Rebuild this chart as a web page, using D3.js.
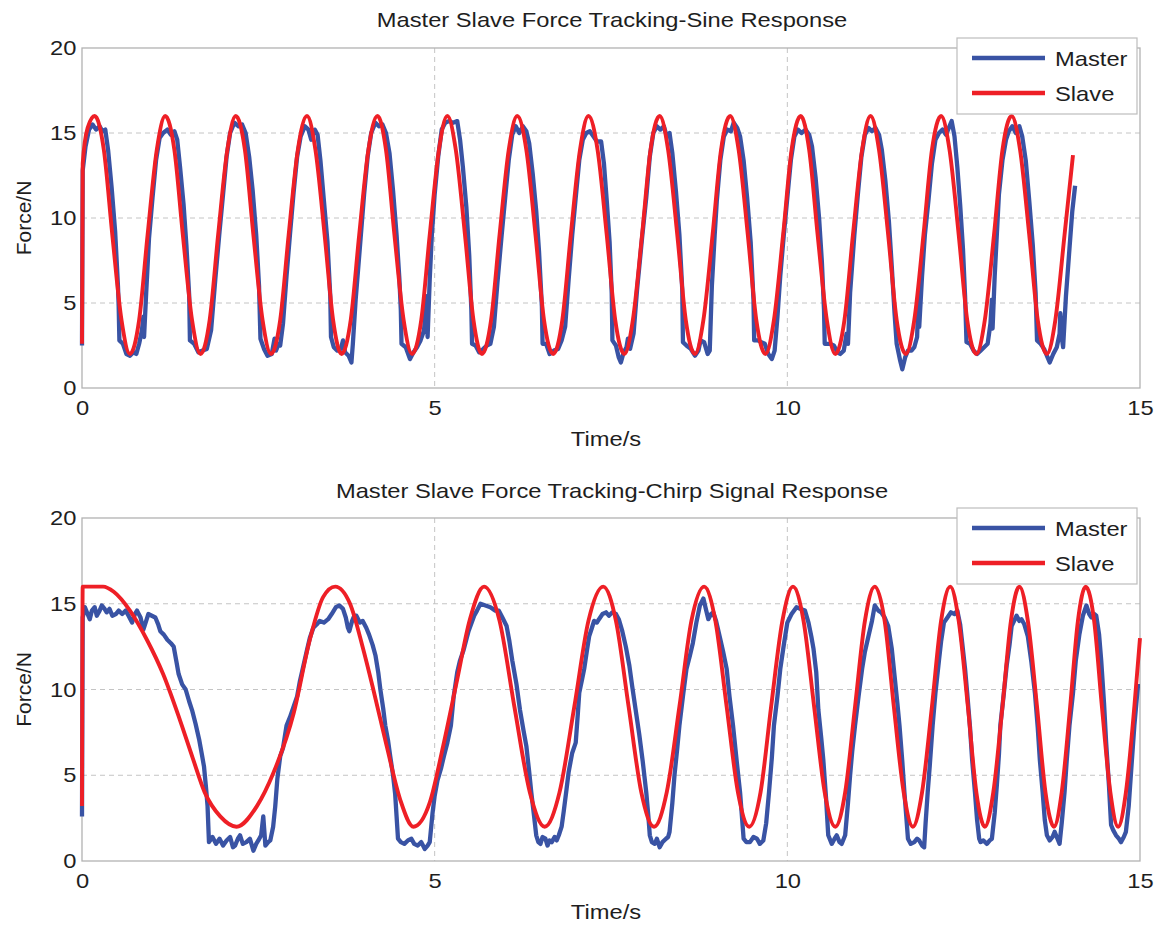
<!DOCTYPE html>
<html>
<head>
<meta charset="utf-8">
<script src="https://cdn.jsdelivr.net/npm/d3@7/dist/d3.min.js"></script>
<style>
  html, body { margin: 0; padding: 0; background: #fff; }
  svg { display: block; }
</style>
</head>
<body>
<script>
// ---- data ----
const xTicks = [0, 5, 10, 15];
const yTicks = [0, 5, 10, 15, 20];
const seriesNames = ["Master", "Slave"];
const panelTitles = [
  "Master Slave Force Tracking-Sine Response",
  "Master Slave Force Tracking-Chirp Signal Response"
];
const xLabel = "Time/s";
const yLabel = "Force/N";

// [time s, force N]
const sineSlave = [
  [0,2.6],[0.01,13.2],[0.08,15.3],
  [0.18,16],[0.31,14],[0.43,9],[0.56,4],[0.68,2],[0.81,4],[0.93,9],[1.06,14],
  [1.18,16],[1.31,14],[1.43,9],[1.56,4],[1.68,2],[1.81,4],[1.93,9],[2.06,14],
  [2.18,16],[2.31,14],[2.43,9],[2.56,4],[2.68,2],[2.81,4],[2.93,9],[3.06,14],
  [3.19,16],[3.31,14],[3.44,9],[3.56,4],[3.68,2],[3.81,4],[3.93,9],[4.06,14],
  [4.19,16],[4.31,14],[4.43,9],[4.56,4],[4.68,2],[4.81,4],[4.93,9],[5.06,14],
  [5.18,16],[5.30,14],[5.43,9],[5.55,4],[5.67,2],[5.80,4],[5.92,9],[6.05,14],
  [6.17,16],[6.30,14],[6.43,9],[6.55,4],[6.68,2],[6.81,4],[6.93,9],[7.06,14],
  [7.18,16],[7.31,14],[7.44,9],[7.56,4],[7.69,2],[7.81,4],[7.94,9],[8.06,14],
  [8.19,16],[8.31,14],[8.44,9],[8.56,4],[8.69,2],[8.81,4],[8.94,9],[9.06,14],
  [9.19,16],[9.31,14],[9.44,9],[9.56,4],[9.69,2],[9.81,4],[9.94,9],[10.06,14],
  [10.19,16],[10.31,14],[10.43,9],[10.56,4],[10.68,2],[10.81,4],[10.93,9],[11.06,14],
  [11.18,16],[11.30,14],[11.43,9],[11.55,4],[11.68,2],[11.80,4],[11.93,9],[12.05,14],
  [12.18,16],[12.30,14],[12.43,9],[12.55,4],[12.68,2],[12.80,4],[12.93,9],[13.05,14],
  [13.18,16],[13.30,14],[13.43,9],[13.55,4],[13.68,2],[13.80,4],[13.93,9],[14.05,13.7]
];

const sineMaster = [
  [0,2.5],[0.01,12.8],[0.05,14.2],[0.10,15.2],[0.15,15.5],[0.20,15.2],[0.25,15.4],[0.29,15.1],[0.33,15.2],[0.37,14.0],[0.42,11.8],[0.47,9.2],[0.51,6.0],[0.52,4.8],[0.53,2.8],[0.58,2.6],[0.63,2.0],[0.68,1.9],[0.73,2.1],[0.77,2.0],[0.81,2.6],[0.85,3.4],[0.87,4.2],[0.88,3.0],[0.91,5.6],[0.95,8.8],
  [1.00,11.2],[1.05,13.4],[1.10,14.7],[1.15,15.0],[1.21,15.2],[1.26,14.9],[1.31,15.1],[1.35,14.6],[1.39,13.0],[1.44,10.8],[1.48,8.4],[1.52,5.4],[1.53,2.8],[1.59,2.6],[1.65,2.1],[1.71,2.2],[1.77,2.3],[1.83,3.4],[1.89,6.4],[1.95,9.2],
  [2.00,11.4],[2.05,13.6],[2.10,15.0],[2.16,15.6],[2.22,15.4],[2.27,15.5],[2.32,15.0],[2.37,13.6],[2.42,11.6],[2.47,9.0],[2.51,6.0],[2.53,2.9],[2.58,2.3],[2.63,1.9],[2.69,2.0],[2.73,2.9],[2.75,2.2],[2.79,2.6],[2.81,2.5],[2.85,3.8],[2.90,6.6],[2.95,9.1],
  [3.00,11.5],[3.05,13.6],[3.10,14.8],[3.16,15.4],[3.21,15.2],[3.25,14.6],[3.30,15.2],[3.34,14.9],[3.38,13.4],[3.43,11.0],[3.48,8.6],[3.52,5.4],[3.53,3.0],[3.57,2.4],[3.62,2.2],[3.67,2.3],[3.70,2.8],[3.73,2.1],[3.78,1.9],[3.82,1.5],[3.84,2.6],[3.88,5.2],[3.95,8.8],
  [4.00,11.4],[4.05,13.6],[4.10,15.0],[4.16,15.6],[4.21,15.4],[4.26,15.5],[4.31,15.0],[4.36,13.8],[4.41,11.6],[4.46,9.0],[4.50,6.4],[4.52,4.6],[4.53,2.6],[4.59,2.4],[4.65,1.7],[4.70,2.1],[4.75,2.4],[4.80,2.8],[4.85,3.4],[4.88,5.4],[4.90,3.0],[4.93,6.4],[4.96,9.0],
  [5.00,11.4],[5.05,13.6],[5.10,15.2],[5.15,15.6],[5.20,15.7],[5.26,15.6],[5.32,15.7],[5.36,14.6],[5.40,13.0],[5.45,10.6],[5.49,7.8],[5.52,4.6],[5.53,2.6],[5.58,2.5],[5.63,2.1],[5.69,2.3],[5.74,2.5],[5.79,2.6],[5.84,3.6],[5.89,6.2],[5.95,9.0],
  [6.00,11.2],[6.05,13.4],[6.10,14.9],[6.15,15.4],[6.20,15.0],[6.25,15.4],[6.30,15.1],[6.34,14.4],[6.39,12.6],[6.44,10.4],[6.48,8.0],[6.52,4.8],[6.53,2.6],[6.58,2.6],[6.63,2.0],[6.69,2.2],[6.75,2.3],[6.80,2.8],[6.85,3.6],[6.90,6.4],[6.95,9.0],
  [7.00,11.2],[7.05,13.4],[7.10,14.6],[7.15,15.0],[7.20,15.1],[7.25,14.8],[7.30,14.5],[7.36,14.5],[7.40,13.2],[7.44,11.0],[7.48,8.6],[7.51,5.6],[7.52,2.8],[7.57,2.5],[7.61,1.8],[7.64,1.5],[7.68,2.1],[7.72,2.4],[7.74,2.9],[7.77,2.3],[7.82,3.2],[7.87,5.8],[7.94,8.8],
  [8.00,11.2],[8.05,13.6],[8.10,15.0],[8.15,15.4],[8.20,15.2],[8.25,15.4],[8.29,14.8],[8.33,15.0],[8.37,13.8],[8.42,11.6],[8.47,9.0],[8.51,5.8],[8.52,2.7],[8.57,2.5],[8.63,2.3],[8.69,1.9],[8.74,2.2],[8.77,2.8],[8.82,2.7],[8.87,2.0],[8.90,2.2],[8.93,6.0],[8.97,9.0],
  [9.00,11.0],[9.05,13.4],[9.10,14.8],[9.15,15.2],[9.20,15.1],[9.24,15.6],[9.29,15.3],[9.33,14.8],[9.38,13.4],[9.43,11.2],[9.48,8.6],[9.52,5.2],[9.53,2.8],[9.58,2.8],[9.63,2.7],[9.68,2.6],[9.73,2.0],[9.78,1.7],[9.82,2.2],[9.86,4.2],[9.90,6.6],[9.95,9.0],
  [10.00,11.2],[10.05,13.4],[10.10,14.8],[10.15,15.2],[10.20,15.0],[10.26,15.2],[10.31,14.9],[10.35,14.2],[10.40,12.4],[10.45,10.0],[10.49,7.4],[10.52,4.6],[10.53,2.6],[10.60,2.6],[10.66,2.5],[10.71,2.1],[10.75,2.0],[10.80,2.2],[10.84,3.2],[10.86,2.6],[10.89,5.6],[10.95,9.0],
  [11.00,11.4],[11.05,13.6],[11.10,14.9],[11.15,15.3],[11.20,15.1],[11.25,15.3],[11.30,14.9],[11.34,14.0],[11.39,12.2],[11.44,9.8],[11.48,7.2],[11.52,4.4],[11.55,2.6],[11.60,1.6],[11.63,1.1],[11.67,1.8],[11.71,2.2],[11.76,2.2],[11.80,2.4],[11.84,3.0],[11.86,5.6],[11.87,3.6],[11.91,6.6],[11.95,9.0],
  [12.00,11.0],[12.05,13.2],[12.10,14.6],[12.15,15.0],[12.20,15.2],[12.25,14.9],[12.29,15.3],[12.33,15.7],[12.37,14.8],[12.41,13.0],[12.45,10.8],[12.49,8.2],[12.52,5.4],[12.54,2.7],[12.59,2.6],[12.64,2.2],[12.69,2.0],[12.74,2.2],[12.79,2.4],[12.84,2.6],[12.88,3.8],[12.90,5.2],[12.91,3.5],[12.94,6.6],[12.97,9.0],
  [13.00,11.4],[13.05,13.4],[13.10,14.6],[13.14,15.1],[13.19,15.4],[13.24,15.0],[13.29,15.4],[13.33,14.8],[13.38,13.4],[13.43,11.0],[13.48,8.4],[13.52,5.6],[13.54,2.8],[13.59,2.6],[13.64,2.3],[13.69,1.8],[13.72,1.5],[13.77,2.0],[13.82,2.4],[13.86,3.2],[13.87,4.4],[13.89,3.0],[13.91,2.4],[13.95,5.4],[14.00,8.2],[14.04,10.4],[14.08,11.9]
];

const chirpSlave = [
  [0,3.2],[0.01,16],[0.30,16],[0.45,15.7],[0.68,14.6],[0.92,12.9],[1.15,10.9],[1.39,8.2],[1.57,6.0],[1.74,4.0],[1.96,2.6],[2.19,2],
  [2.48,3.2],[2.71,5.1],[3.00,8.6],[3.23,12.9],[3.42,15.4],[3.59,16],
  [3.80,15.0],[3.99,12.3],[4.13,10.0],[4.32,6.7],[4.51,3.6],[4.70,2],
  [4.93,3.4],[5.12,6.7],[5.31,10.4],[5.50,14.1],[5.70,16],
  [5.92,14],[6.13,9],[6.35,4],[6.56,2],[6.77,4],[6.98,9],[7.18,14],[7.39,16],
  [7.57,14],[7.75,9],[7.93,4],[8.11,2],[8.29,4],[8.47,9],[8.64,14],[8.82,16],
  [8.98,14],[9.14,9],[9.30,4],[9.46,2],[9.62,4],[9.77,9],[9.93,14],[10.08,16],
  [10.23,14],[10.38,9],[10.53,4],[10.68,2],[10.82,4],[10.96,9],[11.10,14],[11.24,16],
  [11.38,14],[11.51,9],[11.65,4],[11.78,2],[11.91,4],[12.05,9],[12.18,14],[12.31,16],
  [12.43,14],[12.56,9],[12.68,4],[12.80,2],[12.92,4],[13.05,9],[13.17,14],[13.29,16],
  [13.41,14],[13.54,9],[13.66,4],[13.78,2],[13.89,4],[14.01,9],[14.12,14],[14.23,16],
  [14.35,14],[14.46,9],[14.58,4],[14.69,2],[14.80,4],[14.92,9],[15.00,13]
];

const chirpMaster = [
  [0,2.6],[0.01,14.2],[0.04,14.8],[0.07,14.5],[0.11,14.1],[0.14,14.6],[0.18,14.8],[0.21,14.3],[0.25,14.6],[0.28,14.9],[0.32,14.7],[0.35,14.5],[0.39,14.7],[0.43,14.3],[0.48,14.4],[0.52,14.6],[0.57,14.4],[0.62,14.6],[0.66,14.3],[0.71,13.9],[0.75,14.4],[0.78,14.6],[0.83,14.2],[0.87,13.5],[0.91,14.0],[0.94,14.4],[0.99,14.3],[1.04,14.2],[1.08,13.8],[1.11,13.4],[1.16,13.2],[1.21,12.9],[1.26,12.7],[1.30,12.5],[1.34,11.6],[1.37,10.9],[1.42,10.3],[1.47,10.0],[1.52,9.3],[1.56,8.8],[1.61,8.0],[1.66,7.1],[1.70,6.2],[1.73,5.5],[1.76,4.2],[1.78,3.2],[1.80,1.1],
  [1.85,1.4],[1.90,1.0],[1.95,1.3],[2.00,0.9],[2.05,1.2],[2.10,1.4],[2.14,0.8],[2.17,0.9],[2.21,1.3],[2.24,1.5],[2.28,1.0],[2.33,1.1],[2.38,1.3],[2.43,0.6],[2.47,1.0],[2.50,1.2],[2.54,1.5],[2.57,2.6],[2.60,0.9],[2.64,1.1],[2.67,1.2],[2.71,2.0],[2.74,3.2],[2.77,4.8],[2.81,6.1],[2.85,6.6],[2.90,7.9],[2.95,8.4],[3.00,9.0],[3.05,9.6],[3.09,10.5],[3.14,11.4],[3.19,12.3],[3.23,13.0],[3.28,13.6],[3.33,13.8],[3.37,14.0],[3.43,13.9],[3.49,14.1],[3.54,14.4],[3.60,14.8],[3.65,14.9],[3.70,14.7],[3.74,14.2],[3.77,13.6],[3.79,13.4],[3.83,14.0],[3.86,14.3],[3.89,14.3],[3.94,13.9],[3.98,14.0],
  [4.03,13.6],[4.07,13.2],[4.12,12.6],[4.16,12.0],[4.20,11.0],[4.23,10.0],[4.27,8.9],[4.30,7.9],[4.34,7.0],[4.37,6.1],[4.41,5.0],[4.44,3.9],[4.46,2.6],[4.48,1.3],[4.52,1.1],[4.57,1.0],[4.62,1.2],[4.67,1.3],[4.71,1.0],[4.76,0.9],[4.81,1.1],[4.86,0.7],[4.90,0.9],[4.93,1.1],[4.97,2.8],[5.00,3.8],[5.04,4.7],[5.09,5.4],[5.13,6.1],[5.18,6.9],[5.23,7.9],[5.27,9.6],[5.32,11.0],[5.36,11.7],[5.41,12.3],[5.48,13.4],[5.56,14.3],[5.60,14.6],[5.65,15.0],[5.72,14.9],[5.79,14.8],[5.86,14.6],[5.91,14.6],[5.96,14.2],
  [6.02,13.7],[6.06,12.8],[6.10,11.7],[6.16,10.3],[6.21,8.8],[6.26,7.6],[6.30,6.7],[6.34,5.2],[6.37,4.0],[6.41,2.6],[6.44,1.5],[6.47,1.1],[6.50,1.0],[6.53,1.4],[6.57,1.3],[6.60,0.9],[6.63,1.2],[6.66,1.1],[6.70,1.4],[6.73,1.2],[6.76,1.5],[6.80,2.0],[6.83,2.9],[6.87,4.2],[6.90,5.2],[6.95,6.3],[7.00,6.9],[7.03,8.6],[7.05,9.8],[7.09,10.6],[7.12,11.2],[7.16,12.3],[7.19,13.1],[7.23,13.6],[7.26,14.0],[7.30,13.9],[7.33,14.1],[7.38,14.4],[7.43,14.5],[7.47,14.3],[7.52,14.5],[7.57,14.4],[7.61,14.1],[7.66,13.4],[7.71,12.5],[7.76,11.4],[7.80,10.2],[7.85,8.8],[7.90,7.4],[7.95,5.8],
  [8.00,4.0],[8.03,2.6],[8.05,1.5],[8.08,1.1],[8.12,1.0],[8.15,1.3],[8.19,0.8],[8.23,1.1],[8.28,1.3],[8.31,1.4],[8.33,1.7],[8.37,3.4],[8.40,5.0],[8.44,6.6],[8.47,7.9],[8.52,9.6],[8.57,11.2],[8.62,12.0],[8.66,12.7],[8.71,13.9],[8.76,14.9],[8.81,15.3],[8.85,14.6],[8.88,14.1],[8.92,14.4],[8.95,14.5],[8.99,14.0],
  [9.04,13.1],[9.09,12.2],[9.14,11.2],[9.18,9.6],[9.23,7.9],[9.28,5.9],[9.33,4.0],[9.36,2.4],[9.38,1.3],[9.42,1.1],[9.47,1.1],[9.52,1.4],[9.57,1.3],[9.61,1.0],[9.66,1.2],[9.70,2.2],[9.74,4.0],[9.78,6.0],[9.81,7.9],[9.86,9.6],[9.90,11.2],[9.95,12.6],
  [10.00,13.9],[10.06,14.4],[10.13,14.8],[10.19,14.7],[10.25,14.6],[10.30,13.9],[10.34,13.1],[10.37,12.4],[10.41,11.0],[10.44,8.8],[10.48,7.2],[10.51,5.9],[10.55,3.6],[10.58,1.5],[10.63,1.0],[10.67,1.3],[10.70,1.5],[10.74,1.1],[10.77,1.0],[10.80,1.3],[10.82,1.5],[10.86,3.4],[10.89,5.0],[10.92,6.4],[10.96,7.9],
  [11.01,9.6],[11.06,11.2],[11.10,12.2],[11.15,13.1],[11.20,14.0],[11.24,14.9],[11.29,14.6],[11.33,14.5],[11.38,14.2],[11.43,13.7],[11.48,12.4],[11.52,10.8],[11.56,9.2],[11.59,7.9],[11.63,5.8],[11.66,4.0],[11.69,2.4],[11.71,1.3],[11.75,1.0],[11.80,1.1],[11.84,1.3],[11.87,1.2],[11.91,0.9],[11.94,0.8],[11.96,2.2],[11.99,4.0],
  [12.02,5.6],[12.06,7.9],[12.10,9.8],[12.15,11.7],[12.18,12.8],[12.22,13.9],[12.27,14.2],[12.32,14.5],[12.37,14.4],[12.41,14.6],[12.45,13.8],[12.48,12.7],[12.52,11.2],[12.55,9.8],[12.59,7.8],[12.62,5.9],[12.66,4.0],[12.69,2.4],[12.72,1.3],[12.74,1.1],[12.78,1.2],[12.83,1.0],[12.87,1.2],[12.90,1.3],[12.94,2.8],[12.97,4.4],
  [13.00,6.2],[13.02,7.9],[13.07,9.8],[13.11,11.4],[13.15,12.6],[13.18,13.7],[13.25,14.3],[13.29,14.0],[13.32,14.1],[13.36,13.8],[13.41,13.1],[13.46,11.6],[13.51,9.8],[13.55,7.8],[13.58,5.9],[13.62,4.0],[13.65,2.4],[13.68,1.5],[13.72,1.2],[13.76,1.4],[13.79,1.7],[13.83,1.3],[13.86,1.0],[13.89,2.2],[13.93,4.0],[13.96,5.8],
  [14.00,7.9],[14.05,9.8],[14.09,11.7],[14.14,13.2],[14.19,14.3],[14.24,14.9],[14.28,14.4],[14.31,14.2],[14.35,14.4],[14.38,14.3],[14.42,13.2],[14.45,11.7],[14.49,9.2],[14.52,6.9],[14.56,4.4],[14.59,2.1],[14.62,1.8],[14.66,1.5],[14.70,1.3],[14.73,1.1],[14.77,1.4],[14.80,1.7],[14.84,3.2],[14.87,5.0],[14.92,7.9],[14.97,10.2],[15.00,10.2]
];

// ---- drawing ----
const width = 1168;
const height = 926;
const left = 82, right = 1140;
const fontFamily = '"Liberation Sans", Arial, Helvetica, sans-serif';
const stretch = 1.13; // reference text is a little wide
const masterColor = "#3953a4";
const slaveColor = "#ee1f26";
const textColor = "#1e1e1e";

const svg = d3.select("body")
  .append("svg")
  .attr("width", width)
  .attr("height", height)
  .attr("viewBox", [0, 0, width, height])
  .style("font-family", fontFamily);

const xScale = d3.scaleLinear().domain([0, 15]).range([left, right]);

const panels = [
  { title: panelTitles[0], master: sineMaster, slave: sineSlave, top: 48, bottom: 388, titleY: 27 },
  { title: panelTitles[1], master: chirpMaster, slave: chirpSlave, top: 518, bottom: 861, titleY: 498 }
];

function addText(g, x, y, str, anchor = "middle", sx = stretch) {
  return g.append("text")
    .attr("transform", `translate(${x},${y}) scale(${sx},1)`)
    .attr("text-anchor", anchor)
    .attr("font-size", 21)
    .attr("fill", textColor)
    .text(str);
}

panels.forEach((p) => {
  const g = svg.append("g");
  const yScale = d3.scaleLinear().domain([0, 20]).range([p.bottom, p.top]);

  // dashed grid
  g.append("g")
    .selectAll("line")
    .data(yTicks.filter((d) => d > 0 && d < 20))
    .join("line")
    .attr("x1", left).attr("x2", right)
    .attr("y1", (d) => yScale(d)).attr("y2", (d) => yScale(d))
    .attr("stroke", "#c4c4c4")
    .attr("stroke-width", 1)
    .attr("stroke-dasharray", "5,4");

  g.append("g")
    .selectAll("line")
    .data(xTicks.filter((d) => d > 0 && d < 15))
    .join("line")
    .attr("x1", (d) => xScale(d)).attr("x2", (d) => xScale(d))
    .attr("y1", p.top).attr("y2", p.bottom)
    .attr("stroke", "#c4c4c4")
    .attr("stroke-width", 1)
    .attr("stroke-dasharray", "5,4");

  // box
  g.append("rect")
    .attr("x", left).attr("y", p.top)
    .attr("width", right - left).attr("height", p.bottom - p.top)
    .attr("fill", "none")
    .attr("stroke", "#b2b2b2")
    .attr("stroke-width", 1.3);

  // axes (labels only)
  g.append("g")
    .attr("transform", `translate(${left},0)`)
    .call(d3.axisLeft(yScale).tickValues(yTicks).tickSize(0).tickPadding(5))
    .attr("font-family", null)
    .attr("font-size", 21)
    .call((a) => a.select(".domain").remove())
    .call((a) => a.selectAll("text").attr("fill", textColor).attr("transform", `scale(${stretch},1)`));

  g.append("g")
    .attr("transform", `translate(0,${p.bottom})`)
    .call(d3.axisBottom(xScale).tickValues(xTicks).tickSize(0).tickPadding(12))
    .attr("font-family", null)
    .attr("font-size", 21)
    .call((a) => a.select(".domain").remove())
    .call((a) => a.selectAll("text").attr("fill", textColor).attr("transform", `scale(${stretch},1)`));

  // lines
  const line = d3.line()
    .x((d) => xScale(d[0]))
    .y((d) => yScale(d[1]));

  g.append("path")
    .datum(p.master)
    .attr("fill", "none")
    .attr("stroke", masterColor)
    .attr("stroke-width", 4.3)
    .attr("stroke-linejoin", "round")
    .attr("d", line.curve(d3.curveLinear));

  g.append("path")
    .datum(p.slave)
    .attr("fill", "none")
    .attr("stroke", slaveColor)
    .attr("stroke-width", 3.9)
    .attr("stroke-linejoin", "round")
    .attr("d", line.curve(d3.curveMonotoneX));

  // titles and labels
  addText(svg, (left + right) / 2 + 1, p.titleY, p.title);
  addText(svg, (left + right) / 2 - 5, p.bottom + 58, xLabel);
  svg.append("text")
    .attr("transform", `translate(31,${(p.top + p.bottom) / 2}) rotate(-90)`)
    .attr("text-anchor", "middle")
    .attr("font-size", 21)
    .attr("fill", textColor)
    .text(yLabel);

  // legend
  const lg = svg.append("g").attr("transform", `translate(957,${p.top - 10})`);
  lg.append("rect")
    .attr("width", 180).attr("height", 76)
    .attr("fill", "#fff")
    .attr("stroke", "#bdbdbd")
    .attr("stroke-width", 1.2);
  [masterColor, slaveColor].forEach((c, i) => {
    const ly = 20 + i * 35;
    lg.append("line")
      .attr("x1", 15).attr("x2", 88)
      .attr("y1", ly).attr("y2", ly)
      .attr("stroke", c)
      .attr("stroke-width", 4.3);
    addText(lg, 98, ly + 7.5, seriesNames[i], "start");
  });
});
</script>
</body>
</html>
